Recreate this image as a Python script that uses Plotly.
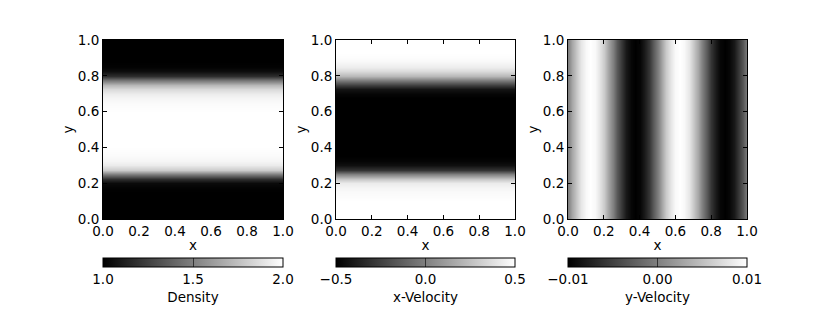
import numpy as np
import plotly.graph_objects as go

# sample positions (shared by the three fields)
grid = [round(i * 0.025, 3) for i in range(41)]

# density across y (constant along x)
density = [1.00, 1.00, 1.00, 1.00, 1.00, 1.00, 1.00, 1.01, 1.04, 1.18,
           1.50, 1.80, 1.92, 1.96, 1.98, 1.99, 2.00, 2.00, 2.00, 2.00,
           2.00, 2.00, 2.00, 2.00, 2.00, 1.99, 1.98, 1.96, 1.93, 1.85,
           1.72, 1.45, 1.18, 1.05, 1.01, 1.00, 1.00, 1.00, 1.00, 1.00, 1.00]

# x-velocity across y (constant along x)
x_velocity = [0.50, 0.50, 0.50, 0.50, 0.50, 0.49, 0.48, 0.46, 0.42, 0.28,
              0.00, -0.30, -0.44, -0.48, -0.50, -0.50, -0.50, -0.50, -0.50, -0.50,
              -0.50, -0.50, -0.50, -0.50, -0.50, -0.50, -0.50, -0.50, -0.48, -0.42,
              -0.25, 0.00, 0.22, 0.36, 0.43, 0.47, 0.49, 0.50, 0.50, 0.50, 0.50]

# y-velocity across x (constant along y)
y_velocity = [0.000, 0.0031, 0.0059, 0.0081, 0.0095, 0.0100, 0.0095, 0.0081, 0.0059, 0.0031,
              0.000, -0.0031, -0.0059, -0.0081, -0.0095, -0.0100, -0.0095, -0.0081, -0.0059, -0.0031,
              0.000, 0.0031, 0.0059, 0.0081, 0.0095, 0.0100, 0.0095, 0.0081, 0.0059, 0.0031,
              0.000, -0.0031, -0.0059, -0.0081, -0.0095, -0.0100, -0.0095, -0.0081, -0.0059, -0.0031,
              0.000]

titles = ["Density", "x-Velocity", "y-Velocity"]
ranges = [(1.0, 2.0), (-0.5, 0.5), (-0.01, 0.01)]
cbar_ticks = [[1.0, 1.5, 2.0], [-0.5, 0.0, 0.5], [-0.01, 0.0, 0.01]]
cbar_text = [["1.0", "1.5", "2.0"], ["\u22120.5", "0.0", "0.5"], ["\u22120.01", "0.00", "0.01"]]

W, H = 830, 332
OFF = 8  # page body margin shifts the figure by this much
px_x = [(103, 283), (336, 515), (568, 747)]
px_top, px_bot = 40, 219
cb_top = 258

font = dict(family="DejaVu Sans", size=13.5, color="black")
gray = [[0, "black"], [1, "white"]]

fields = [
    np.tile(np.array(density)[:, None], (1, 3)),
    np.tile(np.array(x_velocity)[:, None], (1, 3)),
    np.tile(np.array(y_velocity)[None, :], (3, 1)),
]
xs = [[0, 0.5, 1], [0, 0.5, 1], grid]
ys = [grid, grid, [0, 0.5, 1]]

fig = go.Figure()
for i in range(3):
    x0, x1 = px_x[i][0] - OFF, px_x[i][1] - OFF
    ax = "" if i == 0 else str(i + 1)
    fig.add_trace(go.Heatmap(
        x=xs[i], y=ys[i], z=fields[i],
        colorscale=gray, zmin=ranges[i][0], zmax=ranges[i][1],
        zsmooth="best", xaxis="x" + ax, yaxis="y" + ax,
        colorbar=dict(
            orientation="h", x=(x0 + x1) / 2 / W, xanchor="center",
            y=1 - (cb_top - OFF) / H, yanchor="top",
            len=(x1 - x0) / W, lenmode="fraction", thickness=9, thicknessmode="pixels",
            outlinecolor="black", outlinewidth=1, xpad=0, ypad=0,
            tickvals=cbar_ticks[i], ticktext=cbar_text[i],
            ticks="inside", ticklen=9, tickcolor="#333333", tickwidth=1,
            tickfont=font,
            title=dict(text=titles[i], side="bottom", font=font),
        ),
    ))
    axis_common = dict(range=[0, 1], dtick=0.2, tickformat=".1f",
                       ticks="inside", ticklen=4, tickcolor="black",
                       showline=True, linecolor="black", linewidth=1, mirror="ticks",
                       showgrid=False, zeroline=False, tickfont=font)
    fig.layout["xaxis" + ax] = dict(domain=[x0 / W, x1 / W], anchor="y" + ax,
                                    title=dict(text="x", font=font, standoff=2),
                                    **axis_common)
    fig.layout["yaxis" + ax] = dict(domain=[1 - (px_bot - OFF) / H, 1 - (px_top - OFF) / H],
                                    anchor="x" + ax,
                                    title=dict(text="y", font=font, standoff=1),
                                    **axis_common)

fig.update_layout(
    width=W, height=H,
    margin=dict(l=0, r=0, t=0, b=0, autoexpand=False),
    paper_bgcolor="white", plot_bgcolor="white",
    font=font, showlegend=False,
)

fig.write_html("out.html")
